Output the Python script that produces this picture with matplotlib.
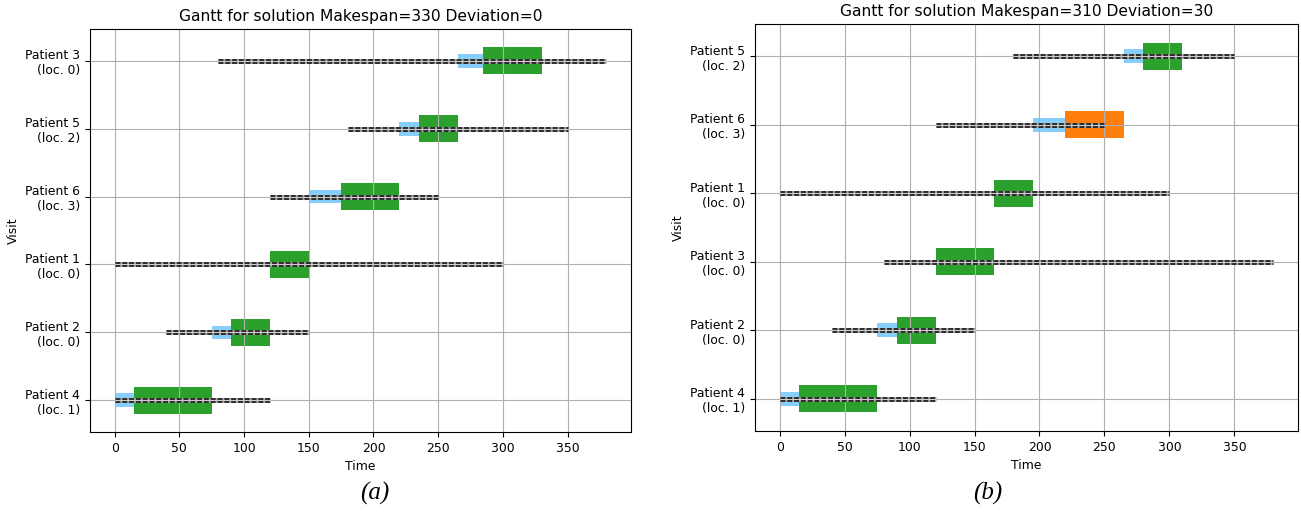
#imports
import numpy as np
import matplotlib
matplotlib.use("Agg")
import matplotlib.pyplot as plt

plt.rcParams["font.size"] = 8.9
plt.rcParams["axes.titlesize"] = 11.2

#data - panel (a), rows listed bottom to top
labels_a = ["Patient 4\n(loc. 1)", "Patient 2\n(loc. 0)", "Patient 1\n(loc. 0)",
            "Patient 6\n(loc. 3)", "Patient 5\n(loc. 2)", "Patient 3\n(loc. 0)"]
win_start_a = [0, 40, 0, 120, 180, 80]
win_end_a = [120, 150, 300, 250, 350, 380]
wait_start_a = [0, 75, None, 150, 220, 265]
wait_end_a = [15, 90, None, 175, 235, 285]
visit_start_a = [15, 90, 120, 175, 235, 285]
visit_end_a = [75, 120, 150, 220, 265, 330]
late_a = [False, False, False, False, False, False]

#data - panel (b)
labels_b = ["Patient 4\n(loc. 1)", "Patient 2\n(loc. 0)", "Patient 3\n(loc. 0)",
            "Patient 1\n(loc. 0)", "Patient 6\n(loc. 3)", "Patient 5\n(loc. 2)"]
win_start_b = [0, 40, 80, 0, 120, 180]
win_end_b = [120, 150, 380, 300, 250, 350]
wait_start_b = [0, 75, None, None, 195, 265]
wait_end_b = [15, 90, None, None, 220, 280]
visit_start_b = [15, 90, 120, 165, 220, 280]
visit_end_b = [75, 120, 165, 195, 265, 310]
late_b = [False, False, False, False, True, False]


def gantt(ax, labels, ws, we, qs, qe, vs, ve, late, title):
    ax.use_sticky_edges = False
    ypos = np.arange(len(labels))
    for i in ypos:
        if qs[i] is not None:
            ax.barh(i, qe[i] - qs[i], left=qs[i], height=0.2, color="#87CEFA")
        col = "tab:orange" if late[i] else "tab:green"
        ax.barh(i, ve[i] - vs[i], left=vs[i], height=0.4, color=col)
        # time window
        ax.plot([ws[i], we[i]], [i, i], color="0.65", lw=3.5, solid_capstyle="butt")
        ax.plot([ws[i], we[i]], [i, i], color="0.15", lw=3.5, dashes=(1.0, 0.4))
        ax.plot([ws[i], we[i]], [i, i], color="0.8", lw=0.8)
    ax.set_yticks(ypos)
    ax.set_yticklabels(labels)
    ax.set_xticks(np.arange(0, 351, 50))
    ax.grid(True)
    ax.set_xlabel("Time")
    ax.set_ylabel("Visit")
    ax.set_title(title)


fig = plt.figure(figsize=(13.01, 5.14), dpi=100)
ax1 = fig.add_axes([0.0692, 0.1595, 0.4158, 0.7840])
ax2 = fig.add_axes([0.5803, 0.1615, 0.4174, 0.7918])

gantt(ax1, labels_a, win_start_a, win_end_a, wait_start_a, wait_end_a,
      visit_start_a, visit_end_a, late_a, "Gantt for solution Makespan=330 Deviation=0")
gantt(ax2, labels_b, win_start_b, win_end_b, wait_start_b, wait_end_b,
      visit_start_b, visit_end_b, late_b, "Gantt for solution Makespan=310 Deviation=30")

fig.text(375 / 1301, 1 - 493 / 514, "(a)", family="Liberation Serif", style="italic",
         fontsize=18, ha="center", va="center")
fig.text(988 / 1301, 1 - 493 / 514, "(b)", family="Liberation Serif", style="italic",
         fontsize=18, ha="center", va="center")

fig.savefig("out.png", dpi=100)
